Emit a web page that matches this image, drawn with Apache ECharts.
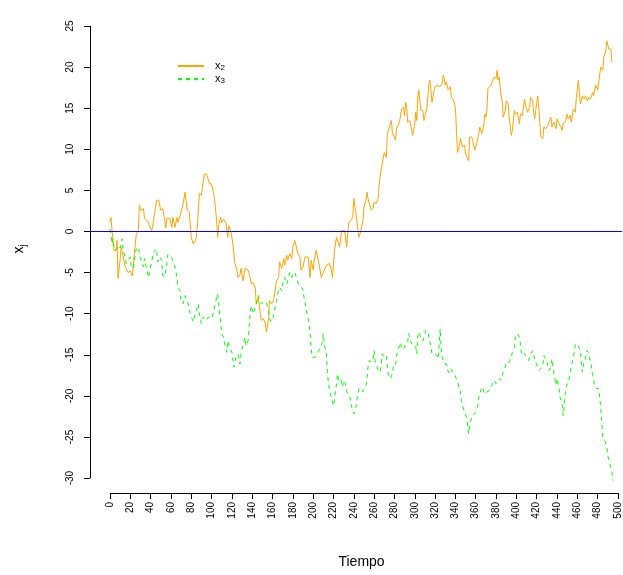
<!DOCTYPE html>
<html>
<head>
<meta charset="utf-8">
<script src="https://cdn.jsdelivr.net/npm/echarts@6/dist/echarts.min.js"></script>
<style>html,body{margin:0;padding:0;background:#fff}#c{width:623px;height:575px}</style>
</head>
<body>
<div id="c"></div>
<script>
// ---- data ----
const tX2 = [0,1,3,4,6,7,8,10,11,13,15,18,20,22,25,26,28,29,31,33,34,37,39,41,42,44,46,48,50,52,54,55,56,59,61,62,64,66,67,69,70,72,74,75,76,78,79,80,82,84,85,86,88,90,92,93,95,96,98,100,102,103,105,106,107,109,110,112,114,116,117,119,121,123,125,126,128,129,131,133,134,136,138,139,141,143,144,146,148,149,151,153,154,156,157,159,161,162,164,166,167,169,171,172,174,175,177,179,180,182,183,185,187,188,190,192,193,195,197,198,200,201,203,205,206,208,210,211,213,214,216,218,219,221,223,224,226,228,229,231,233,234,235,237,239,240,242,243,245,247,249,250,252,253,254,255,257,259,260,262,264,265,267,268,270,272,273,275,277,278,280,281,282,283,285,286,287,289,290,291,292,293,295,296,298,300,301,302,303,304,306,308,309,310,312,314,315,317,319,320,322,323,325,327,328,329,330,331,333,335,336,338,340,341,342,344,345,347,349,350,353,354,356,357,359,361,363,364,366,368,369,370,371,372,373,375,376,378,380,381,382,383,385,386,387,389,390,392,393,395,396,398,399,401,403,404,406,408,409,411,413,414,416,417,418,420,421,422,424,426,427,429,431,432,434,435,437,439,440,442,444,445,446,448,450,451,453,454,456,458,459,461,462,463,465,467,468,470,471,473,475,476,478,480,481,483,485,486,488,489,491,493,494];
const x2 = [1.1,1.7,-1.1,-2.3,-2.3,-1.1,-5.7,-3.5,-1.9,-3.0,-4.3,-5.0,-4.8,-5.4,-1.5,-0.3,0.1,3.2,2.5,2.8,1.6,1.3,0.7,0.1,0.5,2.3,3.8,3.8,2.6,2.8,1.3,0.4,1.6,1.6,0.5,1.7,0.5,1.7,1.1,1.9,2.3,3.4,4.8,4.6,2.6,2.4,1.0,-0.7,-1.5,-1.1,-0.7,0.5,4.6,4.4,6.2,7.0,7.0,6.6,5.8,5.8,4.6,4.0,1.3,-0.7,0.7,1.7,1.1,1.5,1.1,-0.7,0.7,0.1,-1.5,-3.9,-4.7,-5.6,-5.3,-4.5,-6.0,-4.5,-4.3,-4.7,-5.6,-6.4,-6.2,-6.8,-8.8,-8.0,-10.0,-10.8,-10.6,-11.2,-12.2,-10.8,-8.4,-8.8,-8.4,-7.6,-6.0,-5.6,-3.7,-4.5,-3.3,-4.1,-2.9,-3.5,-2.7,-3.3,-1.9,-1.1,-1.3,-2.7,-3.1,-4.7,-4.3,-3.1,-3.3,-3.1,-5.6,-3.5,-4.7,-3.5,-2.3,-3.5,-4.1,-5.6,-5.0,-5.2,-4.1,-4.3,-3.9,-4.7,-5.6,-2.3,-0.7,-0.5,-1.9,0.1,0.3,0.1,-1.9,-0.3,1.1,1.3,1.7,4.0,2.3,2.1,-0.7,0.1,1.3,3.0,3.8,4.8,4.0,4.2,2.6,2.8,3.6,3.4,4.0,5.8,7.6,7.6,9.6,9.0,11.9,12.7,13.5,11.9,11.5,11.1,12.5,12.7,13.3,13.1,14.9,15.1,14.1,15.7,15.3,13.3,13.5,12.9,11.7,13.1,14.5,13.5,16.3,17.2,14.7,14.7,13.5,13.7,15.1,18.0,18.4,15.7,17.2,17.6,17.8,18.0,17.6,18.0,19.0,18.6,17.8,18.2,17.2,17.6,16.3,16.1,15.1,12.3,9.6,10.5,11.3,10.3,10.5,9.4,8.6,11.5,11.5,11.1,9.9,10.7,11.9,12.7,11.9,13.1,14.3,13.9,14.7,17.4,17.2,17.8,18.0,18.8,18.6,19.6,18.4,18.8,16.5,15.9,13.9,14.7,15.9,15.5,13.7,11.7,12.3,14.7,14.3,14.5,13.1,14.3,14.1,16.1,15.3,14.5,15.1,16.3,15.9,14.5,13.7,15.7,16.5,15.1,11.5,11.3,12.7,12.5,12.9,13.3,13.9,12.7,13.3,12.5,13.7,13.1,12.7,12.3,13.1,13.3,14.3,13.7,14.1,13.3,14.9,14.5,16.3,18.4,16.9,15.5,16.5,16.1,16.5,15.9,16.3,16.1,16.9,16.5,17.8,17.2,17.4,20.0,19.6,21.2,22.0,23.2,22.2,22.2,20.6];
const tX3 = [0,1,2,3,4,5,7,8,10,12,13,15,16,18,20,21,23,25,26,28,30,31,33,34,36,38,39,41,43,44,46,47,49,51,52,54,56,57,59,61,62,64,66,67,69,70,72,74,75,77,79,80,82,84,85,87,88,90,92,93,95,97,98,100,102,103,105,106,107,109,110,112,113,115,116,118,120,121,122,124,125,126,128,129,131,133,134,136,137,138,139,141,142,144,146,147,149,151,152,154,156,157,158,159,161,162,164,165,167,169,170,172,174,175,177,179,180,182,183,184,186,187,188,190,191,193,194,196,197,198,199,200,202,204,205,207,209,210,211,213,214,215,217,218,220,221,223,224,225,227,229,230,232,233,234,236,237,238,240,242,243,244,245,247,249,250,252,253,254,255,257,259,260,261,263,264,266,267,268,270,272,273,274,276,278,279,281,282,283,285,286,287,289,290,291,293,294,296,297,299,301,302,303,304,306,308,309,311,313,314,315,316,317,319,320,322,323,325,326,327,329,331,332,333,335,336,337,339,340,342,344,345,346,348,349,351,353,354,355,357,358,360,362,363,365,367,368,370,371,373,375,376,378,380,381,383,385,386,387,389,390,391,393,395,396,397,398,399,401,403,404,405,407,408,410,412,413,414,416,417,419,421,422,424,426,427,429,431,432,434,435,437,439,440,442,443,445,446,447,448,449,451,453,454,455,457,458,460,461,463,464,465,466,468,469,471,472,474,475,476,477,479,481,482,483,484,485,487,489,490,492,494,495];
const x3 = [0.3,-0.5,-1.5,-0.9,-1.9,-2.3,-2.1,-1.7,-2.0,-0.9,-2.3,-3.1,-3.9,-3.5,-3.1,-4.3,-4.5,-2.7,-2.1,-1.9,-3.3,-3.5,-4.3,-3.3,-4.5,-5.6,-5.0,-3.7,-2.5,-2.3,-2.1,-3.7,-3.1,-3.5,-5.4,-5.5,-3.9,-2.8,-2.9,-3.3,-3.5,-4.3,-5.6,-6.8,-7.2,-8.4,-8.8,-7.8,-8.0,-8.8,-10.0,-10.2,-11.0,-10.0,-9.6,-8.8,-10.0,-11.2,-10.4,-10.2,-10.8,-10.4,-10.4,-10.6,-9.8,-9.2,-8.0,-7.6,-8.8,-11.2,-12.4,-12.9,-13.7,-14.7,-13.3,-14.1,-14.7,-14.9,-16.5,-15.3,-15.3,-14.9,-16.1,-14.9,-13.7,-12.9,-13.9,-13.3,-11.6,-10.0,-9.0,-10.0,-9.6,-8.8,-7.8,-8.2,-8.8,-8.6,-8.8,-8.6,-9.6,-10.2,-11.0,-11.2,-10.4,-9.6,-8.4,-7.6,-6.8,-7.2,-6.4,-5.6,-6.4,-6.0,-5.0,-5.6,-5.1,-5.0,-5.4,-5.6,-6.6,-6.8,-6.8,-7.0,-8.0,-9.2,-10.0,-11.2,-12.4,-14.1,-15.3,-15.5,-15.3,-14.9,-14.7,-14.1,-13.5,-12.4,-13.7,-14.9,-16.9,-18.5,-19.8,-20.2,-21.2,-20.4,-18.5,-17.3,-18.1,-17.9,-18.9,-18.1,-18.5,-19.5,-19.3,-20.0,-19.8,-21.4,-22.2,-21.4,-20.4,-20.0,-19.1,-19.3,-19.5,-19.1,-18.7,-17.9,-16.5,-15.7,-15.9,-15.5,-14.5,-15.7,-16.5,-16.9,-17.1,-16.3,-14.9,-15.3,-15.1,-16.3,-17.5,-17.9,-17.3,-16.3,-16.3,-15.3,-14.5,-13.9,-13.5,-14.3,-14.3,-14.1,-13.7,-13.5,-12.4,-13.3,-13.7,-13.7,-14.1,-14.9,-12.7,-12.2,-12.9,-13.3,-12.9,-12.0,-12.2,-12.9,-13.5,-14.1,-14.9,-14.9,-15.1,-15.1,-15.5,-11.8,-14.3,-15.3,-16.1,-16.1,-16.7,-17.1,-17.1,-16.7,-17.1,-17.3,-17.5,-18.3,-19.1,-19.5,-20.6,-21.6,-22.0,-22.6,-24.6,-23.4,-23.0,-22.4,-22.6,-22.0,-21.2,-20.2,-19.3,-18.9,-19.5,-19.8,-19.5,-19.4,-19.1,-18.7,-18.1,-18.5,-18.3,-17.9,-18.1,-18.3,-17.1,-16.5,-15.9,-15.7,-15.9,-15.3,-14.7,-14.9,-14.1,-12.9,-12.4,-12.9,-13.7,-14.9,-14.7,-14.9,-15.3,-15.7,-15.5,-14.9,-14.5,-15.1,-15.9,-16.5,-16.9,-16.7,-16.3,-15.1,-15.5,-16.3,-16.9,-16.5,-15.5,-17.3,-18.7,-17.9,-19.1,-20.2,-21.0,-22.4,-21.4,-19.8,-18.9,-18.3,-17.3,-16.3,-15.9,-14.7,-13.7,-13.7,-13.5,-14.5,-16.1,-17.1,-16.1,-15.5,-14.5,-14.7,-15.3,-16.5,-17.5,-17.9,-18.9,-19.1,-19.1,-20.2,-21.4,-23.0,-25.0,-25.4,-26.2,-27.3,-28.3,-29.3,-30.3];
const xTicks = [0,20,40,60,80,100,120,140,160,180,200,220,240,260,280,300,320,340,360,380,400,420,440,460,480,500];
const yTicks = [-30,-25,-20,-15,-10,-5,0,5,10,15,20,25];
const seriesNames = ['x2', 'x3'];
const xTitle = 'Tiempo';
const refLevel = 0;   // horizontal reference line

// ---- layout constants ----
const X_MIN = -19.6, X_MAX = 504;
const Y_MIN = -31.81, Y_MAX = 25.36;
const FONT = '"Liberation Sans", Arial, sans-serif';
const ZERO_BLUE = '#0000f0';

const chart = echarts.init(document.getElementById('c'), null, {renderer: 'canvas'});
const pairs = (t, v) => t.map((ti, i) => [ti, v[i]]);

chart.setOption({
  animation: false,
  backgroundColor: '#ffffff',
  textStyle: {fontFamily: FONT},
  grid: {left: 90, right: 0, top: 23, bottom: 82, containLabel: false},
  legend: {
    orient: 'vertical', left: 172, top: 54, itemWidth: 26, itemHeight: 8, itemGap: 0,
    data: seriesNames,
    itemStyle: {opacity: 0},
    formatter: n => '{a|x}{s|' + n.slice(1) + '}',
    textStyle: {
      fontFamily: FONT, color: '#000', padding: [0, 0, 0, 6],
      rich: {a: {fontSize: 11, fontFamily: FONT, color: '#000', lineHeight: 12},
             s: {fontSize: 8, fontFamily: FONT, color: '#000', verticalAlign: 'bottom', lineHeight: 12, padding: [5, 0, 0, 0]}}
    }
  },
  xAxis: {
    type: 'value', min: X_MIN, max: X_MAX,
    axisLine: {show: false, onZero: false}, splitLine: {show: false},
    axisTick: {show: true, inside: false, length: 6, customValues: xTicks, lineStyle: {color: '#000', width: 1}},
    axisLabel: {customValues: xTicks, rotate: 90, fontSize: 10, color: '#000', margin: 9, fontFamily: FONT},
    name: xTitle, nameLocation: 'middle', nameGap: 62,
    nameTextStyle: {fontSize: 14, color: '#000', fontFamily: FONT, padding: [0, 0, 0, 11]}
  },
  yAxis: {
    type: 'value', min: Y_MIN, max: Y_MAX,
    axisLine: {show: false, onZero: false}, splitLine: {show: false},
    axisTick: {show: true, inside: false, length: 6, customValues: yTicks, lineStyle: {color: '#000', width: 1}},
    axisLabel: {customValues: yTicks, rotate: 90, fontSize: 10, color: '#000', margin: 15, fontFamily: FONT},
    name: '{a|x}{s|j}', nameLocation: 'middle', nameGap: 62, nameRotate: 90,
    nameTextStyle: {
      color: '#000', fontFamily: FONT, padding: [0, 0, 0, 18],
      rich: {a: {fontSize: 14, fontFamily: FONT, color: '#000'},
             s: {fontSize: 10, fontFamily: FONT, color: '#000', verticalAlign: 'bottom', padding: [8, 0, 0, 0]}}
    }
  },
  series: [
    {
      name: 'ref', type: 'line', data: [[X_MIN, refLevel], [X_MAX, refLevel]],
      symbol: 'none', showSymbol: false, silent: true, clip: false,
      lineStyle: {color: ZERO_BLUE, width: 1, type: 'solid'},
      z: 10
    },
    {
      name: seriesNames[0], type: 'line', data: pairs(tX2, x2),
      symbol: 'none', showSymbol: false, silent: true,
      lineStyle: {color: '#FFA500', width: 1}, itemStyle: {color: '#FFA500'},
      z: 3
    },
    {
      name: seriesNames[1], type: 'line', data: pairs(tX3, x3),
      symbol: 'none', showSymbol: false, silent: true,
      lineStyle: {color: '#00FF00', width: 1, type: [4, 4]}, itemStyle: {color: '#00FF00'},
      z: 3
    },
    {
      name: 'frame', type: 'line', data: [], clip: false, silent: true,
      color: '#000000',
      markLine: {
        silent: true, symbol: 'none', animation: false, label: {show: false},
        lineStyle: {color: '#000000', width: 1, type: 'solid', opacity: 1},
        data: [
          [{coord: [xTicks[0], Y_MIN]}, {coord: [xTicks[xTicks.length - 1], Y_MIN]}],
          [{coord: [X_MIN, yTicks[0]]}, {coord: [X_MIN, yTicks[yTicks.length - 1]]}]
        ]
      },
      z: 2
    }
  ]
});
</script>
</body>
</html>
